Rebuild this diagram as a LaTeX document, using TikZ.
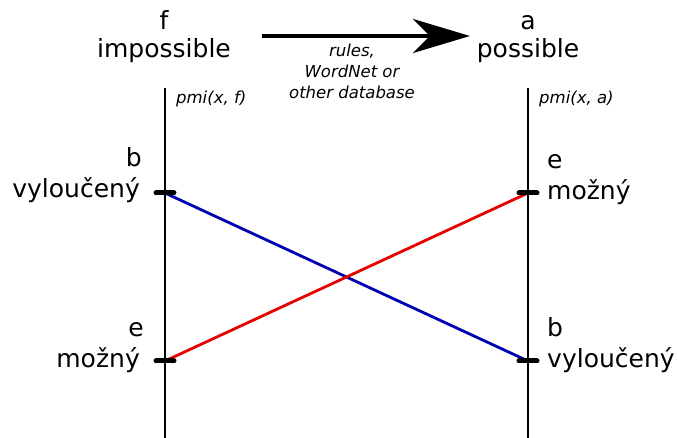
\documentclass[tikz,border=0pt]{standalone}
\usepackage{fontspec}
\setmainfont{DejaVu Sans}
\usetikzlibrary{arrows.meta, positioning}
\definecolor{linkblue}{RGB}{0,0,176}
\definecolor{linkred}{RGB}{230,0,0}

\begin{document}
\begin{tikzpicture}[x=1pt, y=1pt,
		word/.style={inner sep=0pt, font=\fontsize{25}{30}\selectfont},
		note/.style={inner sep=0pt, font=\fontsize{16.5}{21}\selectfont\itshape, align=center},
		axis/.style={line width=1.5pt},
		tickmark/.style={line width=5pt, line cap=round},
		link/.style={line width=2.8pt},
		bigarrow/.style={-{Stealth[length=57pt, width=34pt, inset=17pt]}, line width=4.5pt}
	]
		\useasboundingbox (0,0) rectangle (678,-438);
		% axes
		\coordinate (ftop) at (165,-88);
		\coordinate (fbot) at (165,-438);
		\coordinate (atop) at (528,-88);
		\coordinate (abot) at (528,-438);
		\draw[axis] (ftop) -- (fbot);
		\draw[axis] (atop) -- (abot);
		% tick positions
		\coordinate (fhi) at (165,-193);
		\coordinate (flo) at (165,-361);
		\coordinate (ahi) at (528,-193);
		\coordinate (alo) at (528,-361);
		% headings
		\node[word, anchor=base] (fname) at (164,-30) {f};
		\node[word, anchor=base] (impossible) at (164,-58) {impossible};
		\node[word, anchor=base] (aname) at (528,-30) {a};
		\node[word, anchor=base] (possible) at (528,-58) {possible};
		\coordinate (arrowstart) at (262,-36);
		\coordinate (arrowend) at (470,-36);
		\draw[bigarrow] (arrowstart) -- (arrowend);
		\node[note, anchor=north] (method) at (352,-44) {rules,\\WordNet or\\other database};
		\node[note, anchor=base west] (pmif) at (176,-104) {pmi(x, f)};
		\node[note, anchor=base west] (pmia) at (539,-104) {pmi(x, a)};
		% left labels
		\node[word, anchor=base east] (vylf) at ([xshift=-25pt, yshift=-5pt]fhi) {vyloučený};
		\node[word, anchor=base east] (bf) at ([xshift=2pt, yshift=31pt]vylf.base east) {b};
		\node[word, anchor=base east] (mozf) at ([xshift=-25pt, yshift=-7pt]flo) {možný};
		\node[word, anchor=base east] (ef) at ([xshift=4pt, yshift=31pt]mozf.base east) {e};
		% right labels
		\node[word, anchor=base west] (moza) at ([xshift=19pt, yshift=-7pt]ahi) {možný};
		\node[word, anchor=base west] (ea) at ([yshift=31pt]moza.base west) {e};
		\node[word, anchor=base west] (vyla) at ([xshift=19pt, yshift=-7pt]alo) {vyloučený};
		\node[word, anchor=base west] (ba) at ([yshift=31pt]vyla.base west) {b};
		% links
		\draw[link, linkblue] (fhi) -- (alo);
		\draw[link, linkred] (flo) -- (ahi);
		\foreach \t in {fhi,flo,ahi,alo}
			\draw[tickmark] ([xshift=-9pt]\t) -- ([xshift=9pt]\t);
	\end{tikzpicture}
\end{document}
